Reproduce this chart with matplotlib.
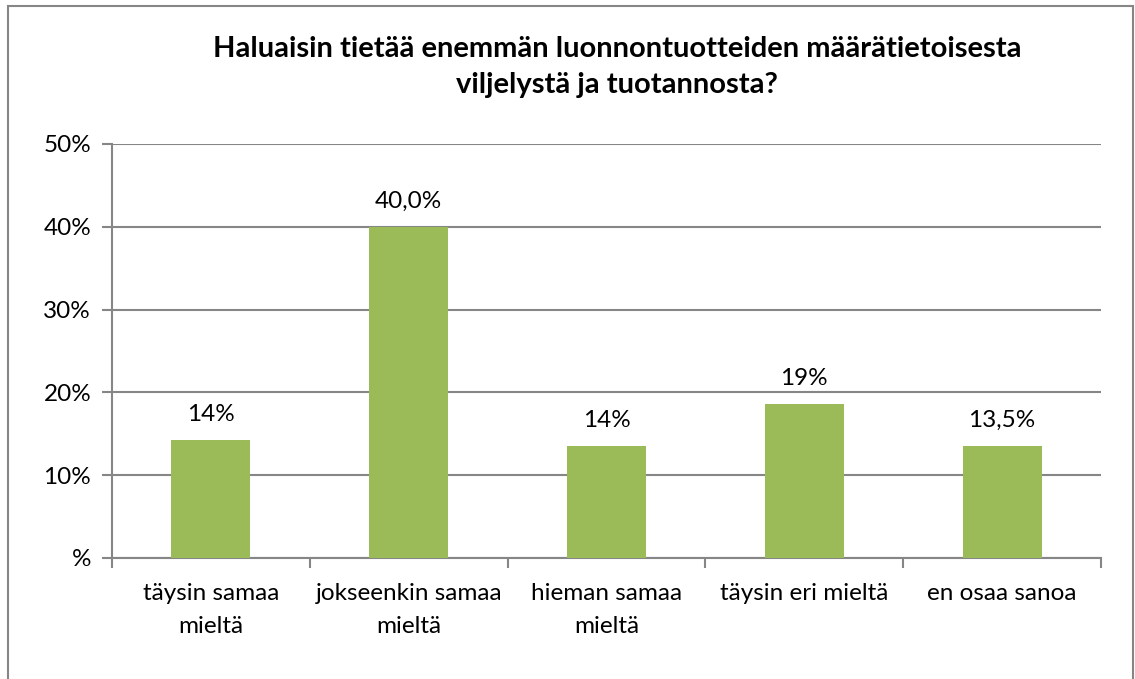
import matplotlib.pyplot as plt
from matplotlib.patches import Rectangle

# data
categories = ["täysin samaa\nmieltä", "jokseenkin samaa\nmieltä", "hieman samaa\nmieltä",
              "täysin eri mieltä", "en osaa sanoa"]
values = [14.2, 40.0, 13.5, 18.6, 13.5]
value_labels = ["14%", "40,0%", "14%", "19%", "13,5%"]
y_ticks = [0, 10, 20, 30, 40, 50]
y_tick_labels = ["%", "10%", "20%", "30%", "40%", "50%"]
title = "Haluaisin tietää enemmän luonnontuotteiden määrätietoisesta\nviljelystä ja tuotannosta?"

plt.rcParams['font.family'] = ['Lato', 'DejaVu Sans']

GRID = "#868686"
BAR = "#9BBB59"
FS = 17.5

fig = plt.figure(figsize=(11.35, 6.79), dpi=100)
ax = fig.add_axes([112 / 1135, 1 - 558 / 679, (1101 - 112) / 1135, (558 - 144) / 679])

x = list(range(len(values)))
ax.bar(x, values, width=0.4, color=BAR, zorder=3)
for xi, v, lab in zip(x, values, value_labels):
    ax.annotate(lab, (xi, v), xytext=(0, 11), textcoords="offset points",
                ha="center", va="bottom", fontsize=FS)

ax.set_xlim(-0.5, len(values) - 0.5)
ax.set_ylim(0, 50)
ax.set_yticks(y_ticks)
ax.set_yticklabels(y_tick_labels, fontsize=FS)
ax.set_xticks(x)
ax.set_xticklabels(categories, fontsize=FS, linespacing=1.7)
ax.set_xticks([i - 0.5 for i in range(len(values) + 1)], minor=True)
ax.tick_params(axis="x", which="major", length=0, pad=18)
ax.tick_params(axis="x", which="minor", length=7, width=1.5, color=GRID)
ax.tick_params(axis="y", length=7, width=1.5, color=GRID, pad=8)

ax.grid(axis="y", color=GRID, linewidth=1.5, zorder=0)
for side in ["top", "right"]:
    ax.spines[side].set_visible(False)
for side in ["left", "bottom"]:
    ax.spines[side].set_color(GRID)
    ax.spines[side].set_linewidth(1.5)

fig.text(617 / 1135, 1 - 67 / 679, title, ha="center", va="center",
         fontsize=21, fontweight="bold", linespacing=1.45)

# outer chart frame
fig.patches.append(Rectangle((8 / 1135, -0.05), (1133 - 8) / 1135, 1.05 - 6 / 679,
                             transform=fig.transFigure, fill=False,
                             edgecolor=GRID, linewidth=1.5))

fig.savefig("out.png", dpi=100)
